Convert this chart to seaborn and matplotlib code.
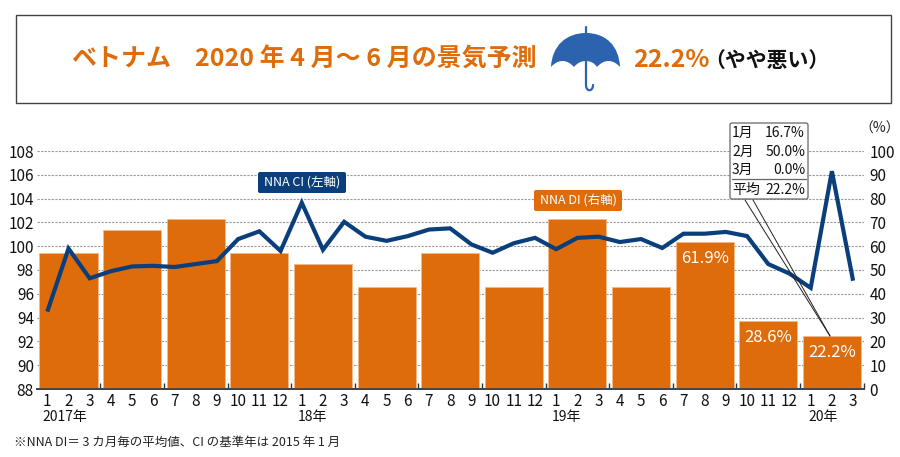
import numpy as np
import matplotlib
matplotlib.use("Agg")
import matplotlib.pyplot as plt
from matplotlib.path import Path
from matplotlib.patches import PathPatch, FancyBboxPatch, Rectangle
import seaborn as sns

# monthly CI, Jan 2017 - Mar 2020 (left axis)
ci_values = [94.5, 99.8, 97.3, 97.9, 98.3, 98.35, 98.25, 98.5, 98.75, 100.6, 101.25, 99.6,
             103.65, 99.7, 102.05, 100.8, 100.45, 100.85, 101.4, 101.5, 100.15, 99.45, 100.25, 100.7,
             99.75, 100.7, 100.8, 100.35, 100.6, 99.85, 101.05, 101.05, 101.2, 100.85, 98.5, 97.7,
             96.5, 106.3, 97.1]
# quarterly DI (right axis)
di_values = [57.1, 66.7, 71.4, 57.1, 52.4, 42.9, 57.1, 42.9, 71.4, 42.9, 61.9, 28.6, 22.2]
month_labels = ['1', '2', '3', '4', '5', '6', '7', '8', '9', '10', '11', '12'] * 3 + ['1', '2', '3']
bar_labels = [''] * 10 + ['61.9%', '28.6%', '22.2%']
left_ticks = list(range(88, 110, 2))
right_ticks = list(range(0, 110, 10))
year_labels = ['2017年', '18年', '19年', '20年']
year_pos = [0.83, 12.5, 24.5, 36.6]
callout_rows = [('1月', '16.7%'), ('2月', '50.0%'), ('3月', '0.0%'), ('平均', '22.2%')]

ORANGE = '#DF6C0A'
NAVY = '#0A3F7C'
FONTS = ['Noto Sans CJK JP', 'DejaVu Sans']

sns.set_theme(style='white')
plt.rcParams['font.family'] = FONTS
W, H = 900, 457

fig = plt.figure(figsize=(W / 100, H / 100), dpi=100)
rect = [36.7 / W, (H - 389) / H, 827 / W, 238 / H]
ax_r = fig.add_axes(rect)
ax = ax_r.twinx()
ax.set_zorder(ax_r.get_zorder() + 1)
ax.patch.set_visible(False)

months = np.arange(len(ci_values))
quarters = months[1::3]

# bars on right axis
sns.barplot(x=quarters, y=di_values, native_scale=True, width=0.913, color=ORANGE, saturation=1,
            edgecolor='#F2B98C', linewidth=0.6, ax=ax_r)
for p in ax_r.patches:
    p.set_zorder(3)
ax_r.set_ylim(0, 100)
ax_r.set_xlim(-0.5, 38.5)
ax_r.yaxis.tick_right()
ax_r.set_yticks(right_ticks)
ax_r.set_yticklabels(right_ticks, fontsize=11, color='#111111')
ax_r.tick_params(axis='y', length=0, pad=4)
ax_r.grid(axis='y', color='#999999', ls=(0, (2, 1.2)), lw=0.8)
ax_r.set_axisbelow(True)
ax_r.bar_label(ax_r.containers[0], labels=bar_labels, padding=-18, color='white', fontsize=12, zorder=4)
ax_r.set_xticks(months)
ax_r.set_xticklabels(month_labels, fontsize=11, color='#111111')
ax_r.set_xticks(np.arange(2.5, 39, 3), minor=True)
ax_r.tick_params(axis='x', which='major', length=0, pad=3)
ax_r.tick_params(axis='x', which='minor', direction='in', length=4.5, width=1, color='#333333', bottom=True)
ax_r.set_xlabel('')
ax_r.set_ylabel('')

# CI line on left axis
sns.lineplot(x=months, y=ci_values, color=NAVY, lw=3, ax=ax, solid_joinstyle='miter', solid_capstyle='butt')
ax.set_ylim(88, 108)
ax.yaxis.tick_left()
ax.set_yticks(left_ticks)
ax.set_yticklabels(left_ticks, fontsize=11, color='#111111')
ax.tick_params(axis='y', length=0, pad=2)
ax.set_ylabel('')

for a in (ax, ax_r):
    for side in ('top', 'left', 'right'):
        a.spines[side].set_visible(False)
    a.spines['bottom'].set_color('#444444')
    a.spines['bottom'].set_linewidth(1.3)

for lab, pos in zip(year_labels, year_pos):
    ax_r.annotate(lab, xy=(pos, 0), xycoords=('data', 'axes fraction'), xytext=(0, -20.5),
                  textcoords='offset points', ha='center', va='center', fontsize=10, color='#111111')

# overlay in pixel coordinates for the header and call-outs
ov = fig.add_axes([0, 0, 1, 1], zorder=10)
ov.set_xlim(0, W)
ov.set_ylim(H, 0)
ov.axis('off')
ov.patch.set_visible(False)

ov.add_patch(Rectangle((16, 14.5), 875, 88.5, fc='white', ec='#444444', lw=1))
title_kw = dict(color=ORANGE, fontsize=18, fontweight='bold', va='center')
ov.text(71, 60, 'ベトナム', ha='left', **title_kw)
ov.text(195, 60, '2020 年 4 月～ 6 月の景気予測', ha='left', **title_kw)
ov.text(633, 60, '22.2%', ha='left', **title_kw)
ov.text(704, 60, '（やや悪い）', ha='left', color='#111111', fontsize=15, fontweight='bold', va='center')

# umbrella
canopy = Path(
    [(551, 67), (552, 46), (566, 33), (586, 33), (606, 33), (619, 46), (620, 67),
     (613, 59), (604, 59), (597, 67), (592, 59), (580, 59), (574, 67), (567, 59), (558, 59), (551, 67)],
    [Path.MOVETO] + [Path.CURVE4] * 15)
ov.add_patch(PathPatch(canopy, fc='#2B63AE', ec='none'))
handle = Path([(586, 27), (586, 85), (586, 92), (593, 92), (593, 85)],
              [Path.MOVETO, Path.LINETO, Path.CURVE4, Path.CURVE4, Path.CURVE4])
ov.add_patch(PathPatch(handle, fc='none', ec='#2B63AE', lw=1.6, capstyle='round', joinstyle='round'))

# series tags
for x0, y0, w, h, col, txt in [(258, 172, 88, 21, NAVY, 'NNA CI (左軸)'), (534, 190, 88, 21, ORANGE, 'NNA DI (右軸)')]:
    ov.add_patch(FancyBboxPatch((x0 + 2, y0 + 2), w - 4, h - 4, boxstyle='round,pad=2', fc=col, ec='none'))
    ov.text(x0 + w / 2, y0 + h / 2 - 0.5, txt, color='white', fontsize=9, ha='center', va='center')

# call-out leaders and box
for x_start in (745, 753):
    ov.plot([x_start, 830], [200, 336], color='#222222', lw=0.7)
ov.add_patch(FancyBboxPatch((732, 125), 74, 72, boxstyle='round,pad=2', fc='white', ec='#666666', lw=0.9))
for (name, pct), y in zip(callout_rows, [133, 152, 170, 190]):
    ov.text(732, y, name, ha='left', va='center', fontsize=10, color='#111111')
    ov.text(805, y, pct, ha='right', va='center', fontsize=10, color='#111111')
ov.plot([732, 806], [178.5, 178.5], color='#666666', lw=0.9)

ov.text(880, 129, '（%）', ha='center', va='center', fontsize=10, color='#222222')
ov.text(14, 442, '※NNA DI＝ 3 カ月毎の平均値、CI の基準年は 2015 年 1 月', ha='left', va='center',
        fontsize=9, color='#222222')

fig.savefig('out.png', dpi=100)
